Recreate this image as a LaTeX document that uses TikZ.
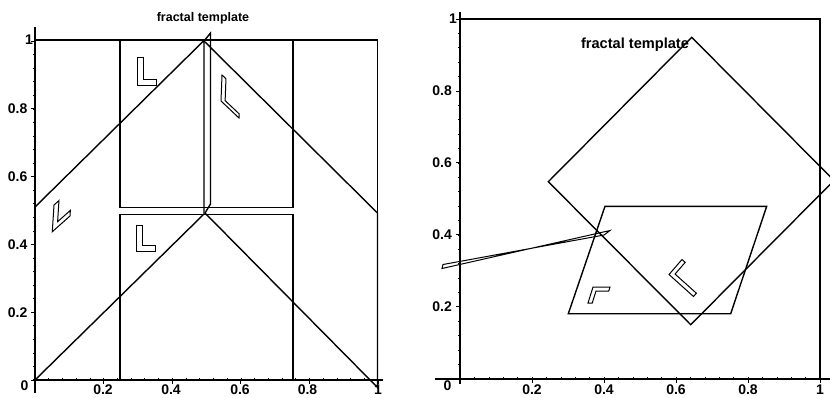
\documentclass[tikz,border=0pt]{standalone}
\usepackage{fontspec}
\setmainfont{Liberation Sans}
\usetikzlibrary{calc}
\tikzset{
  edge/.style={line width=1.4pt, line join=miter},
  lfig/.style={line width=1pt, line join=miter},
  axisline/.style={line width=1.5pt},
  tickmark/.style={line width=0.8pt},
  minortick/.style={line width=0.6pt},
  tlab/.style={font=\bfseries\fontsize{14}{14}\selectfont, inner sep=0pt},
  ttl/.style={font=\bfseries\fontsize{12.5}{12.5}\selectfont, inner sep=0pt},
}
\newcommand{\Lshp}[8]{\draw[lfig] (#1,#2) -- ($(#1,#2)+(#3,#4)$) -- ($(#1,#2)+(#3,#4)+#8*(#5,#6)$) -- ($(#1,#2)+#7*(#3,#4)+#8*(#5,#6)$) -- ($(#1,#2)+#7*(#3,#4)+(#5,#6)$) -- ($(#1,#2)+(#5,#6)$) -- cycle;}
\begin{document}
\begin{tikzpicture}[x=1pt, y=-1pt]
\useasboundingbox (0,0) rectangle (830,397);

%%%%%%%%%%%%%%%% LEFT PLOT %%%%%%%%%%%%%%%%
% axes
\draw[axisline] (35,27) -- (35,393);
\draw[axisline] (33,380) -- (383,380);
% frame
\draw[edge] (35,40) -- (377.5,40) -- (377.5,380);
% ticks
\foreach \i in {0,...,5} {
  \draw[tickmark] (35,{380-67.8*\i}) -- (31,{380-67.8*\i});
  \draw[tickmark] ({35+68.6*\i},380) -- ({35+68.6*\i},384);
}
\foreach \i in {1,...,24} {
  \draw[minortick] (35,{380-339*\i/25}) -- (33,{380-339*\i/25});
  \draw[minortick] ({35+343*\i/25},380) -- ({35+343*\i/25},378);
}
% the four pieces
\draw[edge] (120,214.3) -- (293,214.3) -- (293,380) -- (120,380) -- cycle;
\draw[edge] (120,40) -- (293,40) -- (293,207.7) -- (120,207.7) -- cycle;
\draw[edge] (35,380) -- (204,214) -- (204,40.5) -- (35,207) -- cycle;
\draw[edge] (204,41) -- (210.5,33) -- (210.5,204) -- (205,213) -- (377.5,387.5) -- (377.5,213) -- cycle;
% L shapes
\Lshp{137}{85}{19}{0}{0}{-27.5}{0.32}{0.21}
\Lshp{136}{251}{19}{0}{0}{-25.7}{0.32}{0.22}
\Lshp{221}{101}{18}{17}{1}{-26}{0.22}{0.16}
\Lshp{52.3}{231.7}{17.7}{-15.7}{1.7}{-26.7}{0.28}{0.21}
% labels
\node[ttl] (ltitle) at (203,18) {fractal template};
\node[tlab, anchor=east] (ly1) at (33,40) {1};
\node[tlab, anchor=east] (ly8) at (27.5,108.8) {0.8};
\node[tlab, anchor=east] (ly6) at (27.5,176.6) {0.6};
\node[tlab, anchor=east] (ly4) at (27.5,244.4) {0.4};
\node[tlab, anchor=east] (ly2) at (27.5,312.2) {0.2};
\node[tlab] (ly0) at (24.5,386) {0};
\node[tlab] (lx2) at (103,390) {0.2};
\node[tlab] (lx4) at (171,390) {0.4};
\node[tlab] (lx6) at (240,390) {0.6};
\node[tlab] (lx8) at (307.5,390) {0.8};
\node[tlab] (lx10) at (378,390) {1};

%%%%%%%%%%%%%%%% RIGHT PLOT %%%%%%%%%%%%%%%%
\draw[axisline] (460,12) -- (460,384);
\draw[axisline] (435,379) -- (830,379);
\draw[edge] (460,19) -- (820,19) -- (820,379);
\foreach \i in {0,...,5} {
  \draw[tickmark] (460,{378.7-71.94*\i}) -- (456,{378.7-71.94*\i});
  \draw[tickmark] ({460+72*\i},379) -- ({460+72*\i},383);
}
\foreach \i in {1,...,24} {
  \draw[minortick] (460,{378.7-359.7*\i/25}) -- (458,{378.7-359.7*\i/25});
  \draw[minortick] ({460+360*\i/25},379) -- ({460+360*\i/25},377);
}
\begin{scope}
\clip (0,0) rectangle (830,397);
\draw[edge] (691.7,37.3) -- (548.3,181.7) -- (690.7,324.7) -- (834,180.5) -- cycle;
\end{scope}
\draw[edge] (605,206.3) -- (766.7,206.3) -- (730.7,313.7) -- (568.3,313.7) -- cycle;
\draw[lfig] (442,268.5) -- (610,230.5) -- (604,235) -- (443,264.5) -- cycle;
\Lshp{593}{287}{17}{0}{-5}{16}{0.25}{0.25}
\Lshp{669}{274.5}{13}{-15}{24.5}{22}{0.22}{0.13}
% labels
\node[ttl, font=\bfseries\fontsize{14.6}{14.6}\selectfont] (rtitle) at (635,45) {fractal template};
\node[tlab, anchor=east] (ry1) at (457,19) {1};
\node[tlab, anchor=east] (ry8) at (452,91) {0.8};
\node[tlab, anchor=east] (ry6) at (452,163) {0.6};
\node[tlab, anchor=east] (ry4) at (452,235) {0.4};
\node[tlab, anchor=east] (ry2) at (452,307) {0.2};
\node[tlab] (ry0) at (447.5,386) {0};
\node[tlab] (rx2) at (532,390) {0.2};
\node[tlab] (rx4) at (604,390) {0.4};
\node[tlab] (rx6) at (676,390) {0.6};
\node[tlab] (rx8) at (748,390) {0.8};
\node[tlab] (rx10) at (820,390) {1};
\end{tikzpicture}
\end{document}
